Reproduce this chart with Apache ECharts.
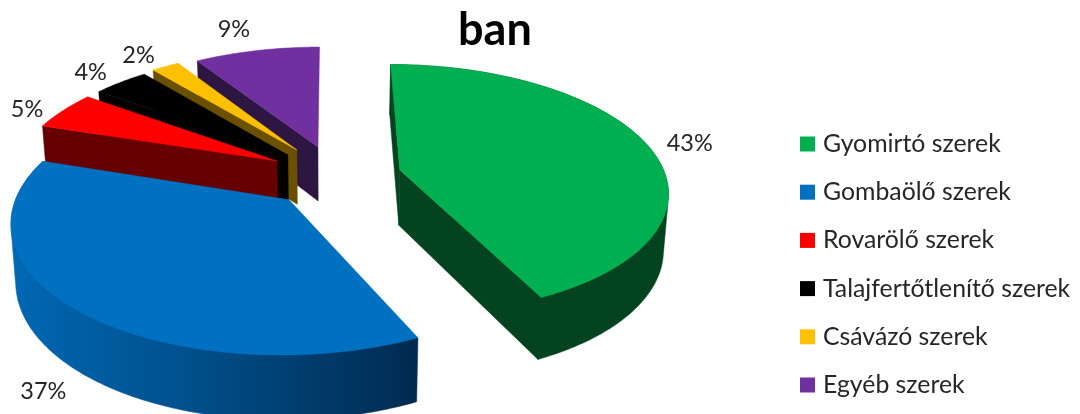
<!DOCTYPE html>
<html><head><meta charset="utf-8">
<style>html,body{margin:0;padding:0;background:#fff}#c{width:1080px;height:414px}</style>
<script src="https://cdn.jsdelivr.net/npm/echarts@6/dist/echarts.min.js"></script>
</head><body><div id="c"></div>
<script>
// --- data ---
const categories = ['Gyomirtó szerek','Gombaölő szerek','Rovarölő szerek','Talajfertőtlenítő szerek','Csávázó szerek','Egyéb szerek'];
const shares = [43,37,5,4,2,9];
const chartTitle = 'ban';
// --- style ---
const topColors  = ['#00b050','#0070c0','#ff0000','#000000','#ffc000','#7030a0'];
const wallColors = ['#03431f','#002a4f','#660000','#000000','#6b5000','#2d1642'];
const explode = [[.265,.0416],[-.15,.278],[-.203,-.0335],[-.163,-.0845],[-.129,-.128],[-.047,-.154]];
const labelShift = [[43,-1],[-35,80],[-36,-1],[-30,-10],[-27,-11],[-23,-21]];
const paintOrder = [5,4,3,2,0,1];
const CX=330, CY=165, RX=262, RY=120, P=.151, DEPTH=55, FONT='Lato, "Noto Sans", sans-serif';

const total = shares.reduce((a,b)=>a+b,0);
const starts = shares.map((_,i)=>shares.slice(0,i).reduce((a,b)=>a+b,0)/total*Math.PI*2);

function proj(X,Y){
  const s=1/(1-P*Y);
  return {x:CX+RX*X*s, y:CY+RY*Y*s, s};
}
function low(p){
  return [CX+(p.x-CX)*.985, p.y+DEPTH*(.25+.75*p.s)];
}
function hull(points){
  const a=points.slice().sort((p,q)=>p[0]-q[0]||p[1]-q[1]);
  const cross=(o,p,q)=>(p[0]-o[0])*(q[1]-o[1])-(p[1]-o[1])*(q[0]-o[0]);
  const half=list=>{
    const h=[];
    for(const p of list){
      while(h.length>1&&cross(h[h.length-2],h[h.length-1],p)<=0) h.pop();
      h.push(p);
    }
    h.pop();
    return h;
  };
  return half(a).concat(half(a.slice().reverse()));
}
function renderSlice(i){
  return function(params,api){
    const span=api.value(0)/total*Math.PI*2, a0=starts[i], a1=a0+span;
    const [ox,oy]=explode[i];
    const rim=[], angles=[];
    const n=Math.max(4,Math.ceil(span/(Math.PI/180)));
    for(let k=0;k<=n;k++){
      const a=a0+span*k/n;
      angles.push(a);
      rim.push(proj(ox+Math.sin(a),oy-Math.cos(a)));
    }
    const apex=proj(ox,oy);
    const pt=p=>[p.x,p.y];
    const poly=(points,fill)=>({type:'polygon',silent:true,shape:{points},style:{fill,stroke:fill,lineWidth:.5}});
    const ch=[];
    const first=rim[0], last=rim[rim.length-1];
    if(Math.sin(a0)<1e-9) ch.push(poly([pt(apex),pt(first),low(first),low(apex)],wallColors[i]));
    if(Math.sin(a1)>1e-9) ch.push(poly([pt(apex),pt(last),low(last),low(apex)],wallColors[i]));
    if(angles.some(a=>Math.cos(a)<0)){
      const outerFill = i===1
        ? new echarts.graphic.LinearGradient(0,0,1,0,[{offset:0,color:'#0068b4'},{offset:.45,color:'#004f8a'},{offset:1,color:wallColors[1]}])
        : wallColors[i];
      ch.push(poly(hull(rim.map(pt).concat(rim.map(low))),outerFill));
    }
    ch.push(poly([pt(apex)].concat(rim.map(pt)),topColors[i]));
    const mid=a0+span/2, m=proj(ox+Math.sin(mid),oy-Math.cos(mid));
    ch.push({type:'text',silent:true,z2:10,style:{
      x:m.x+labelShift[i][0], y:m.y+labelShift[i][1],
      text:Math.round(api.value(0)/total*100)+'%',
      textAlign:'center',textVerticalAlign:'middle',
      fill:'#262626',font:'23.5px '+FONT}});
    return {type:'group',children:ch};
  };
}

const chart=echarts.init(document.getElementById('c'),null,{renderer:'canvas'});
chart.setOption({
  animation:false,
  title:{text:chartTitle,left:453,top:3,
    textStyle:{fontFamily:FONT,fontSize:45,fontWeight:'bold',color:'#000'}},
  legend:{orient:'vertical',left:795,top:126,itemWidth:15,itemHeight:15,itemGap:22.2,
    selectedMode:false,
    textStyle:{fontFamily:FONT,fontSize:24.8,lineHeight:26,color:'#262626',padding:[0,0,0,3]},
    data:categories.map((name,i)=>({name,icon:'rect',itemStyle:{color:topColors[i]}}))},
  series:paintOrder.map(i=>({
    type:'custom',name:categories[i],coordinateSystem:'none',
    itemStyle:{color:topColors[i]},
    data:[[shares[i]]],renderItem:renderSlice(i)
  }))
});
</script></body></html>
